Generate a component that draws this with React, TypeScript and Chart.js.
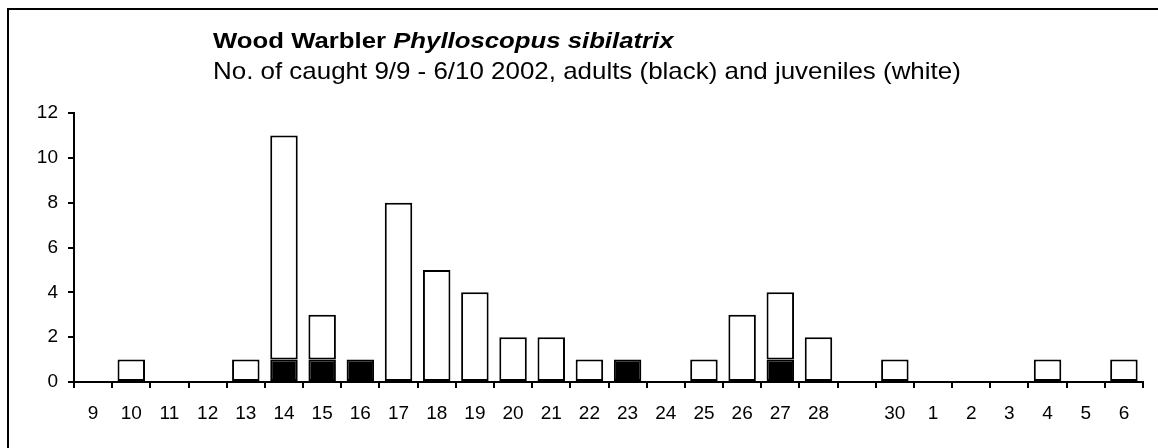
import React, { useEffect, useRef } from "react";
import { Chart, registerables } from "chart.js";

Chart.register(...registerables);

const categories = ["9","10","11","12","13","14","15","16","17","18","19","20","21","22","23","24","25","26","27","28","","30","1","2","3","4","5","6"];
const adults =    [0,0,0,0,0,1,1,1,0,0,0,0,0,0,1,0,0,0,1,0,0,0,0,0,0,0,0,0];
const juveniles = [0,1,0,0,1,10,2,0,8,5,4,2,2,1,0,0,1,3,3,2,0,1,0,0,0,1,0,1];
const yTicks = [0, 2, 4, 6, 8, 10, 12];
const titleBold = "Wood Warbler ";
const titleItalic = "Phylloscopus sibilatrix";
const subtitle = "No. of caught 9/9 - 6/10 2002, adults (black) and juveniles (white)";

const FONT = "'Liberation Sans', Arial, sans-serif";

const framePlugin = {
  id: "frame",
  beforeDraw(chart: any) {
    const ctx = chart.ctx;
    ctx.save();
    ctx.fillStyle = "#fff";
    ctx.fillRect(0, 0, chart.width, chart.height);
    ctx.strokeStyle = "#000";
    ctx.lineWidth = 2;
    ctx.strokeRect(8, 9, chart.width + 20, chart.height + 20);
    ctx.restore();
  },
  afterDraw(chart: any) {
    const ctx = chart.ctx;
    ctx.save();
    ctx.fillStyle = "#000";
    ctx.textBaseline = "alphabetic";
    ctx.textAlign = "left";
    ctx.save();
    ctx.translate(213, 48);
    ctx.scale(1.17, 1);
    ctx.font = `bold 22px ${FONT}`;
    ctx.fillText(titleBold, 0, 0);
    const w = ctx.measureText(titleBold).width;
    ctx.font = `italic bold 22px ${FONT}`;
    ctx.fillText(titleItalic, w, 0);
    ctx.restore();
    ctx.save();
    ctx.translate(213, 79);
    ctx.scale(1.08, 1);
    ctx.font = `24px ${FONT}`;
    ctx.fillText(subtitle, 0, 0);
    ctx.restore();
    ctx.restore();
  },
};

export default function App() {
  const ref = useRef<HTMLCanvasElement>(null);
  useEffect(() => {
    document.body.style.margin = "0";
    const toNull = (a: number[]) => a.map((v) => (v === 0 ? null : v));
    const chart = new Chart(ref.current!, {
      type: "bar",
      data: {
        labels: categories,
        datasets: [
          {
            label: "adults",
            data: toNull(adults) as any,
            backgroundColor: "#000",
            borderColor: "#000",
            borderWidth: 2,
            borderSkipped: false,
            categoryPercentage: 1,
            barPercentage: 0.72,
          },
          {
            label: "juveniles",
            data: toNull(juveniles) as any,
            backgroundColor: "#fff",
            borderColor: "#000",
            borderWidth: 2,
            borderSkipped: false,
            categoryPercentage: 1,
            barPercentage: 0.72,
          },
        ],
      },
      options: {
        animation: false,
        responsive: false,
        devicePixelRatio: 1,
        layout: { padding: { left: 0, top: 113, right: 15, bottom: 0 } },
        plugins: {
          legend: { display: false },
          title: { display: false },
          tooltip: { enabled: false },
        },
        scales: {
          x: {
            stacked: true,
            offset: true,
            grid: {
              offset: true,
              drawOnChartArea: false,
              drawTicks: true,
              tickLength: 6,
              color: "#000",
              lineWidth: 2,
            },
            border: { display: true, color: "#000", width: 2 },
            ticks: {
              color: "#000",
              font: { family: FONT, size: 19 },
              padding: 14,
              maxRotation: 0,
              autoSkip: false,
            },
            afterFit(scale: any) {
              scale.height = 448 - 382;
            },
          },
          y: {
            stacked: true,
            min: 0,
            max: 12,
            afterBuildTicks(scale: any) {
              scale.ticks = yTicks.map((v) => ({ value: v }));
            },
            grid: {
              drawOnChartArea: false,
              drawTicks: true,
              tickLength: 6,
              color: "#000",
              lineWidth: 2,
            },
            border: { display: true, color: "#000", width: 2 },
            ticks: {
              color: "#000",
              font: { family: FONT, size: 19 },
              padding: 10,
            },
            afterFit(scale: any) {
              scale.width = 74;
            },
          },
        },
      },
      plugins: [framePlugin],
    });
    return () => chart.destroy();
  }, []);
  return <canvas ref={ref} width={1158} height={448} style={{ display: "block" }} />;
}
